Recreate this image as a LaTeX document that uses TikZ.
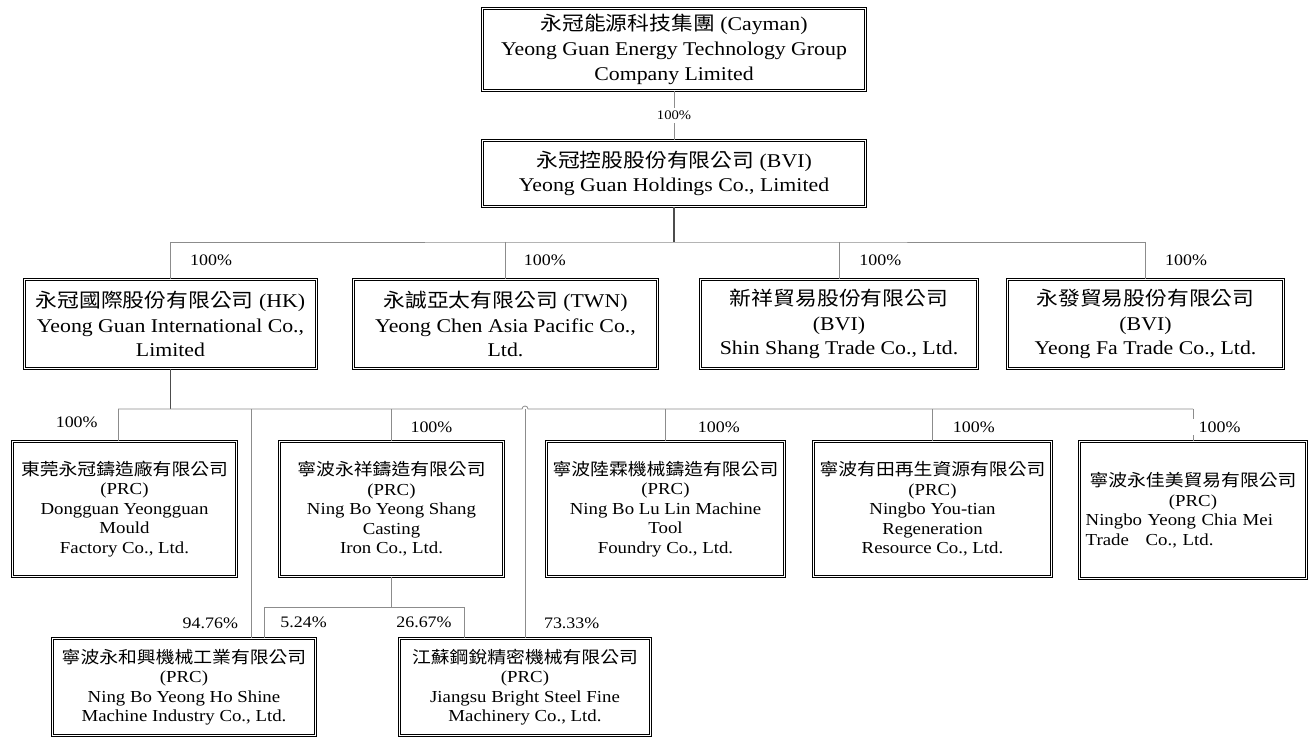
\documentclass[tikz,border=0pt]{standalone}
\usepackage{fontspec}
\setmainfont{Liberation Serif}[FakeStretch=1.12]
\newfontfamily\cjk{Noto Sans CJK TC}[FakeStretch=1.12]
\usetikzlibrary{calc}
\tikzset{
    block/.style = {draw, double, double distance=1.1pt, line width=0.45pt,
        align=center, inner sep=0pt,
        font=\fontsize{12.6}{14.6}\selectfont},
    bigblock/.style = {block, font=\fontsize{14.6}{18.5}\selectfont},
    boxsize/.style 2 args = {minimum width=#1*0.75pt, minimum height=#2*0.75pt},
    link/.style = {draw=black!45, line width=0.6pt},
    trunk/.style = {draw=black!70, line width=0.9pt},
    pct/.style = {inner sep=1pt, font=\fontsize{12}{14}\selectfont}
}
\newcommand{\zh}[1]{{\cjk #1}}

\begin{document}
\begin{tikzpicture}[x=0.75pt, y=-0.75pt]
                \useasboundingbox (0,0) rectangle (1314,738);
                % holding companies
                \node[bigblock, boxsize={383}{82}] (cay) at (674,49.5) {\zh{永冠能源科技集團} (Cayman)\\Yeong Guan Energy Technology Group\\Company Limited};
                \node[bigblock, boxsize={383}{66}] (bvi) at (674,173.5) {\zh{永冠控股股份有限公司} (BVI)\\Yeong Guan Holdings Co., Limited};
                \node[bigblock, boxsize={292}{89}] (hk) at (170.5,324) {\zh{永冠國際股份有限公司} (HK)\\Yeong Guan International Co.,\\Limited};
                \node[bigblock, boxsize={304}{89}] (twn) at (505.5,324) {\zh{永誠亞太有限公司} (TWN)\\Yeong Chen Asia Pacific Co.,\\Ltd.};
                \node[bigblock, boxsize={277}{89}] (ss) at (839,324) {\zh{新祥貿易股份有限公司}\\(BVI)\\Shin Shang Trade Co., Ltd.};
                \node[bigblock, boxsize={276}{89}] (yf) at (1145.5,324) {\zh{永發貿易股份有限公司}\\(BVI)\\Yeong Fa Trade Co., Ltd.};
                % PRC companies
                \node[block, boxsize={224}{135}] (dg) at (124.5,509) {\zh{東莞永冠鑄造廠有限公司}\\(PRC)\\Dongguan Yeongguan\\Mould\\Factory Co., Ltd.};
                \node[block, boxsize={224}{135}] (ys) at (391.5,509) {\zh{寧波永祥鑄造有限公司}\\(PRC)\\Ning Bo Yeong Shang\\Casting\\Iron Co., Ltd.};
                \node[block, boxsize={238}{135}] (ll) at (665.5,509) {\zh{寧波陸霖機械鑄造有限公司}\\(PRC)\\Ning Bo Lu Lin Machine\\Tool\\Foundry Co., Ltd.};
                \node[block, boxsize={238}{135}] (yt) at (932.5,509) {\zh{寧波有田再生資源有限公司}\\(PRC)\\Ningbo You-tian\\Regeneration\\Resource Co., Ltd.};
                \node[block, boxsize={227}{137}, align=left, text width=161pt] (cm) at (1193,510) {\hfill\zh{寧波永佳美貿易有限公司}\hfill\null\\\hfill(PRC)\hfill\null\\Ningbo Yeong Chia Mei\\Trade\ \ \ Co., Ltd.};
                \node[block, boxsize={263}{97}] (hs) at (184,687) {\zh{寧波永和興機械工業有限公司}\\(PRC)\\Ning Bo Yeong Ho Shine\\Machine Industry Co., Ltd.};
                \node[block, boxsize={251}{97}] (js) at (525,687) {\zh{江蘇鋼銳精密機械有限公司}\\(PRC)\\Jiangsu Bright Steel Fine\\Machinery Co., Ltd.};
                % first levels
                \draw[link] (cay.south) -- node[pct, fill=white, inner sep=2pt, font=\fontsize{9.8}{11}\selectfont] {100\%} (bvi.north);
                \coordinate (bus1) at (674,242);
                \draw[trunk] (bvi.south) -- (bus1);
                \draw[link] (hk.north) |- (bus1) -| (yf.north);
                \draw[link] (hk.north |- bus1) -- node[pct, anchor=west, xshift=13.5pt] {100\%} (hk.north);
                \draw[link] (twn.north |- bus1) -- node[pct, anchor=west, xshift=12.5pt] {100\%} (twn.north);
                \draw[link] (ss.north |- bus1) -- node[pct, anchor=west, xshift=14pt] {100\%} (ss.north);
                \draw[link] (yf.north |- bus1) -- node[pct, anchor=west, xshift=13.5pt] {100\%} (yf.north);
                % PRC level
                \coordinate (bus2) at (170.5,409);
                \coordinate (d-dg) at ($(dg.north)+(-6.5,0)$);
                \coordinate (d-hs) at ($(hs.north)+(67,0)$);
                \draw[trunk] (hk.south) -- (bus2);
                \draw[link] (d-dg |- bus2) -- ($(js.north |- bus2)+(-3,0)$) arc[start angle=180, end angle=360, radius=3] -- (cm.north |- bus2);
                \draw[link] (d-dg |- bus2) -- node[pct, anchor=east, xshift=-14pt, yshift=2pt] {100\%} (d-dg);
                \draw[link] (d-hs |- bus2) -- node[pct, anchor=east, pos=.934, xshift=-8.5pt] {94.76\%} (d-hs);
                \draw[link] (ys.north |- bus2) -- node[pct, anchor=west, xshift=13pt, yshift=-2pt] {100\%} (ys.north);
                \draw[link] (js.north |- bus2) -- node[pct, anchor=west, pos=.934, xshift=13pt] {73.33\%} (js.north);
                \draw[link] (ll.north |- bus2) -- node[pct, anchor=west, xshift=23pt, yshift=-2pt] {100\%} (ll.north);
                \draw[link] (yt.north |- bus2) -- node[pct, anchor=west, xshift=14pt, yshift=-1.5pt] {100\%} (yt.north);
                \draw[link] (cm.north |- bus2) -- node[pct, anchor=west, fill=white, inner xsep=5pt, inner ysep=2pt, xshift=-1pt, yshift=-1.5pt] {100\%} (cm.north);
                % shares held by Ning Bo Yeong Shang
                \coordinate (bus3) at (391.5,607);
                \coordinate (d-hs2) at ($(hs.north)+(80,0)$);
                \coordinate (d-js2) at ($(js.north)+(-61,0)$);
                \draw[link] (ys.south) -- (bus3);
                \draw[link] (d-hs2 |- bus3) -- (d-js2 |- bus3);
                \draw[link] (d-hs2 |- bus3) -- node[pct, anchor=west, xshift=11pt] {5.24\%} (d-hs2);
                \draw[link] (d-js2 |- bus3) -- node[pct, anchor=east, xshift=-8pt] {26.67\%} (d-js2);
            \end{tikzpicture}
\end{document}
